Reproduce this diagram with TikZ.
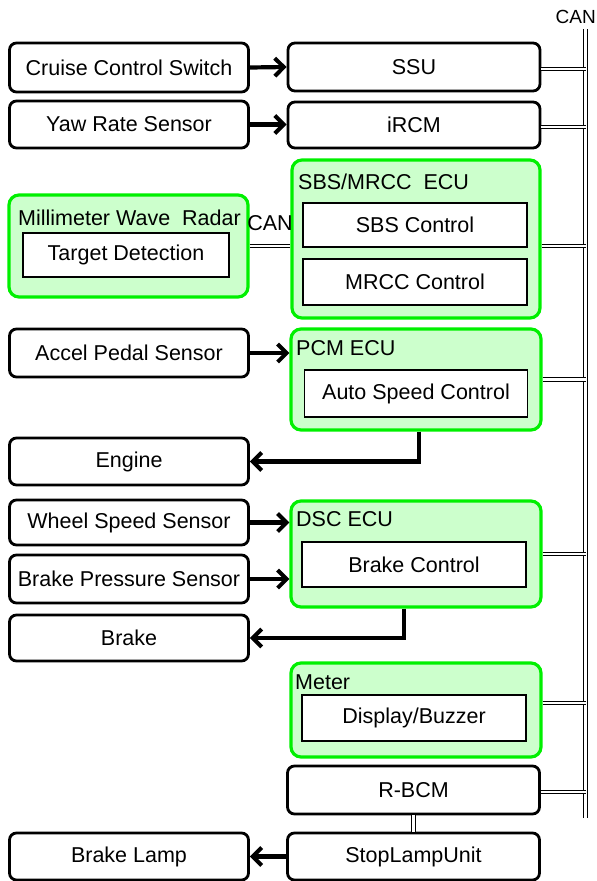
\documentclass[tikz,border=0pt]{standalone}
\usepackage{fontspec}
\setmainfont{Liberation Sans}
\usetikzlibrary{arrows.meta}
\definecolor{gfill}{HTML}{CCFFCC}
\definecolor{gdraw}{HTML}{00F000}
\begin{document}
\begin{tikzpicture}[x=1pt,y=-1pt,
  every node/.style={font=\fontsize{21.5}{25}\selectfont, inner sep=0pt},
  blk/.style={draw=black, line width=2.8pt, rounded corners=7pt, fill=white, minimum width=239pt, minimum height=47pt},
  rblk/.style={blk, minimum width=252pt},
  grp/.style={draw=gdraw, fill=gfill, line width=3.2pt, rounded corners=10pt},
  inner/.style={draw=black, fill=white, line width=1.4pt, minimum width=223pt, minimum height=45pt},
  ttl/.style={anchor=west},
  arr/.style={line width=4.2pt, -{Straight Barb[length=9pt,width=18pt,line width=4pt]}},
  canl/.style={double, double distance=2.2pt, line width=1.2pt},
  busl/.style={double, double distance=2.6pt, line width=1.6pt}
]
\useasboundingbox (0,0) rectangle (597,881);
% left column
\node[blk, minimum height=49pt] (ccs) at (129,67.5) {Cruise Control Switch};
\node[blk] (yaw) at (129,124.5) {Yaw Rate Sensor};
\node[blk, minimum height=48pt] (accel) at (129,353) {Accel Pedal Sensor};
\node[blk] (engine) at (129,461.5) {Engine};
\node[blk, minimum height=45pt] (wheel) at (129,522.5) {Wheel Speed Sensor};
\node[blk, minimum height=48pt] (bps) at (129,579) {Brake Pressure Sensor};
\node[blk, minimum height=46pt] (brake) at (129,638) {Brake};
\node[blk] (lamp) at (129,856.5) {Brake Lamp};
% right column plain boxes
\node[rblk, minimum height=48pt] (ssu) at (414,67) {SSU};
\node[rblk, minimum height=46pt] (ircm) at (414,125) {iRCM};
\node[rblk, minimum height=48pt] (rbcm) at (413.5,790) {R-BCM};
\node[rblk] (stop) at (413.5,856.5) {StopLampUnit};
% green groups
\node[grp, minimum width=239pt, minimum height=102pt] (radar) at (128.5,246) {};
\node[inner, minimum width=206pt, minimum height=44pt] (target) at (126,255) {Target Detection};
\node[ttl] (radart) at (18,218) {Millimeter Wave\ \ Radar};
\node[grp, minimum width=248pt, minimum height=158pt] (sbs) at (416,239) {};
\node[inner, minimum width=224pt, minimum height=44pt] (sbsc) at (415,225) {SBS Control};
\node[inner, minimum width=224pt, minimum height=46pt] (mrcc) at (415,282) {MRCC Control};
\node[ttl] (sbst) at (298,182) {SBS/MRCC\ \ ECU};
\node[grp, minimum width=250pt, minimum height=101pt] (pcm) at (416,379.5) {};
\node[inner, minimum width=223pt, minimum height=47pt] (auto) at (416,393.5) {Auto Speed Control};
\node[ttl] (pcmt) at (296,348) {PCM ECU};
\node[grp, minimum width=250pt, minimum height=106pt] (dsc) at (416,554) {};
\node[inner, minimum width=224pt, minimum height=45pt] (bctl) at (414,564.5) {Brake Control};
\node[ttl] (dsct) at (296,519) {DSC ECU};
\node[grp, minimum width=250pt, minimum height=94pt] (meter) at (416,710) {};
\node[inner, minimum width=224pt, minimum height=46pt] (disp) at (414,718) {Display/Buzzer};
\node[ttl] (metert) at (295,682) {Meter};
% CAN labels and bus
\node[anchor=east, font=\fontsize{19}{22}\selectfont] (canlbl) at (596,17) {CAN};
\node (canlbl2) at (270,223) {CAN};
\coordinate (bustop) at (585.5,29);
\coordinate (busbot) at (585.5,818);
\draw[busl] (bustop) -- (busbot);
% bus connections
\draw[canl] ([yshift=-2pt]ssu.east) -- ([yshift=-2pt]ssu.east -| bustop);
\draw[canl] ([yshift=-2pt]ircm.east) -- ([yshift=-2pt]ircm.east -| bustop);
\draw[canl] (radar.east) -- (radar.east -| sbs.west);
\draw[canl] (sbs.east |- radar.east) -- (bustop |- radar.east);
\draw[canl] (pcm.east) -- (pcm.east -| bustop);
\draw[canl] (dsc.east) -- (dsc.east -| bustop);
\draw[canl] ([yshift=7pt]meter.east) -- ([yshift=7pt]meter.east -| bustop);
\draw[canl] ([yshift=-2pt]rbcm.east) -- ([yshift=-2pt]rbcm.east -| bustop);
\draw[canl] (rbcm.south) -- (stop.north);
% arrows
\draw[arr] (ccs.east) -- (ssu.west);
\draw[arr] (yaw.east) -- (yaw.east -| ircm.west);
\draw[arr] (accel.east) -- (accel.east -| pcm.west);
\draw[arr] ([xshift=3pt]pcm.south) |- (engine.east);
\draw[arr] (wheel.east) -- (wheel.east -| dsc.west);
\draw[arr] (bps.east) -- (bps.east -| dsc.west);
\draw[arr] ([xshift=-12pt]dsc.south) |- (brake.east);
\draw[arr] (stop.west) -- (lamp.east);
\end{tikzpicture}
\end{document}
